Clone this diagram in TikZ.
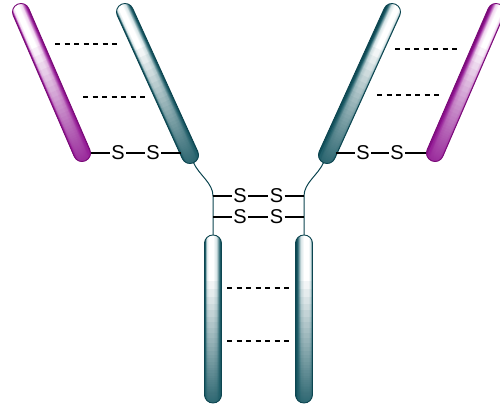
\documentclass[tikz,border=0pt]{standalone}
\usepackage{fontspec}
\setmainfont{Liberation Sans}

% chain colours: D = outline, M = body, L = light sheen
\definecolor{tealD}{HTML}{0C4550}
\definecolor{tealM}{HTML}{22606B}
\definecolor{tealL}{HTML}{D6E4E6}
\definecolor{magD}{HTML}{7A0A78}
\definecolor{magM}{HTML}{98209A}
\definecolor{magL}{HTML}{F0D4EF}

% across-the-rod sheen (local x), dark edges with a broad highlight left of centre
\pgfdeclarehorizontalshading{tealacross}{100bp}{color(0bp)=(tealD); color(25bp)=(tealD);
  color(26.5bp)=(tealM); color(31bp)=(tealL); color(37bp)=(white); color(50bp)=(white);
  color(60bp)=(tealL); color(69.5bp)=(tealM); color(74bp)=(tealD); color(100bp)=(tealD)}
\pgfdeclarehorizontalshading{magacross}{100bp}{color(0bp)=(magD); color(25bp)=(magD);
  color(26.5bp)=(magM); color(31bp)=(magL); color(37bp)=(white); color(50bp)=(white);
  color(60bp)=(magL); color(69.5bp)=(magM); color(74bp)=(magD); color(100bp)=(magD)}

% capsule-shaped chain domain between two cap centres
% #1,#2 lower cap centre; #3,#4 upper cap centre; #5 colour prefix; #6 1 or -1 (sheen side)
% the body darkens towards the lower end: stacked translucent layers,
% opacity rising from 0 (at 75% of the length) to about 0.92 (bottom)
\newcommand\abrod[6]{%
  \pgfmathsetmacro\rodang{atan2(#4-#2,#3-#1)-90}%
  \pgfmathsetmacro\rodtop{veclen(#3-#1,#4-#2)+8.5}%
  \begin{scope}[transform canvas={shift={(#1,#2)},rotate=\rodang,xscale=#6}]
    \shade[shading=#5across, rounded corners=8.4pt] (-8.5,-8.5) rectangle (8.5,\rodtop);
    \begin{scope}
      \clip[rounded corners=8.4pt] (-8.5,-8.5) rectangle (8.5,\rodtop);
      \foreach \k in {1,...,40}{
        \pgfmathsetmacro\sk{-8.5+(\rodtop+8.5)*0.75*(1-(1-0.94^(\k-0.5))/0.92)}
        \fill[#5M, fill opacity=0.06] (-9,-9) rectangle (9,\sk);
      }
    \end{scope}
    \draw[#5D, line width=0.9pt, rounded corners=8.4pt] (-8.5,-8.5) rectangle (8.5,\rodtop);
  \end{scope}}

\begin{document}
\begin{tikzpicture}[x=1pt,y=1pt,
    sulf/.style={inner sep=1.2pt, font=\fontsize{20}{20}\selectfont},
    ssbond/.style={line width=1.9pt, black},
    hbond/.style={line width=1.8pt, black, dash pattern=on 5pt off 4.5pt},
    hinge/.style={line width=1pt, tealD}]
\useasboundingbox (0,0) rectangle (500,405);

% light chains (magenta) and heavy chains (teal)
\abrod{82}{252}{21}{393}{mag}{1}
\abrod{190}{250}{125}{393}{teal}{1}
\abrod{327}{250}{392}{393}{teal}{-1}
\abrod{435}{252}{496}{393}{mag}{-1}
\abrod{213}{10.5}{213}{161.5}{teal}{1}
\abrod{304}{10.5}{304}{161.5}{teal}{-1}

% attachment points on the rods
\coordinate (lcL) at (91,252);    % left light chain, inner edge
\coordinate (hcL) at (181,252);   % left heavy chain, outer edge
\coordinate (hcR) at (336,252);
\coordinate (lcR) at (426,252);
\coordinate (hcLend) at (193.5,242.3);
\coordinate (hcRend) at (323.5,242.3);
\coordinate (fcL) at (213,170);   % top of left Fc rod
\coordinate (fcR) at (304,170);
\coordinate (jL1) at (213,209);
\coordinate (jL2) at (213,188);
\coordinate (jR1) at (304,209);
\coordinate (jR2) at (304,188);

% hinge strands
\draw[hinge] (hcLend) .. controls (199,230) and (213,222) .. (jL1) -- (jL2) -- (fcL);
\draw[hinge] (hcRend) .. controls (318,230) and (304,222) .. (jR1) -- (jR2) -- (fcR);

% disulfide bridges
\node[sulf] (sa1) at (118,252) {S};
\node[sulf] (sa2) at (153,252) {S};
\draw[ssbond] (lcL) -- (sa1) -- (sa2) -- (hcL);

\node[sulf] (sb1) at (363,252) {S};
\node[sulf] (sb2) at (397,252) {S};
\draw[ssbond] (hcR) -- (sb1) -- (sb2) -- (lcR);

\node[sulf] (sc1) at (240,209) {S};
\node[sulf] (sc2) at (276.5,209) {S};
\draw[ssbond] (jL1) -- (sc1) -- (sc2) -- (jR1);

\node[sulf] (sd1) at (240,188) {S};
\node[sulf] (sd2) at (276.5,188) {S};
\draw[ssbond] (jL2) -- (sd1) -- (sd2) -- (jR2);

% non-covalent contacts
\coordinate (h1a) at (55,361);  \coordinate (h1b) at (118,361);
\coordinate (h2a) at (83,308);  \coordinate (h2b) at (147,308);
\coordinate (h3a) at (395,356); \coordinate (h3b) at (458,356);
\coordinate (h4a) at (377,310); \coordinate (h4b) at (440,310);
\coordinate (h5a) at (227,117); \coordinate (h5b) at (290,117);
\coordinate (h6a) at (227,64);  \coordinate (h6b) at (290,64);
\draw[hbond] (h1a) -- (h1b);
\draw[hbond] (h2a) -- (h2b);
\draw[hbond] (h3a) -- (h3b);
\draw[hbond] (h4a) -- (h4b);
\draw[hbond] (h5a) -- (h5b);
\draw[hbond] (h6a) -- (h6b);
\end{tikzpicture}
\end{document}
